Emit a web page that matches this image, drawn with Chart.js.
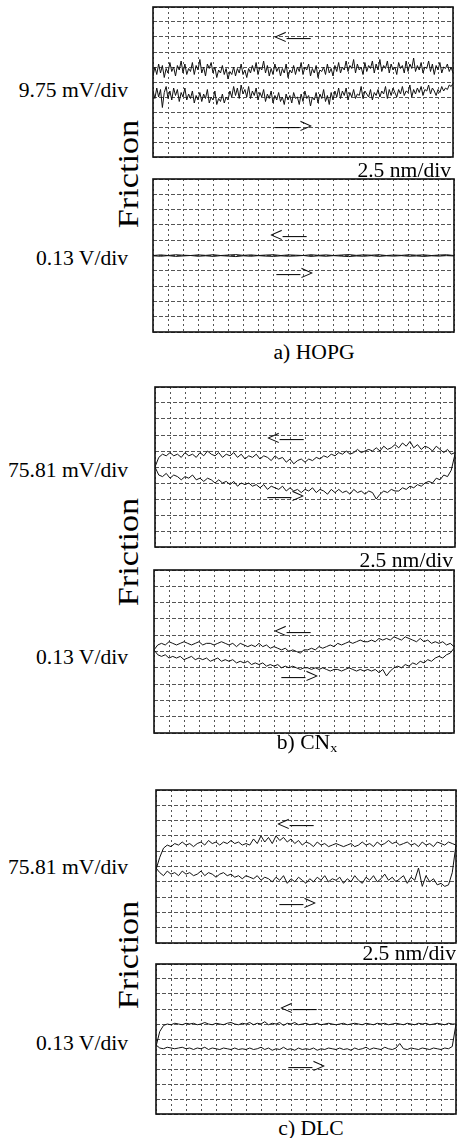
<!DOCTYPE html>
<html lang="en">
<head>
<meta charset="UTF-8">
<title>Friction loops - HOPG, CNx, DLC</title>
<script src="https://cdn.jsdelivr.net/npm/chart.js"></script>
<style>
    body {
        margin: 0;
        background: #fff;
        width: 457px;
        height: 1138px;
        overflow: hidden;
        position: relative;
        font-family: "Liberation Serif", "DejaVu Serif", serif;
        color: #000;
    }
    canvas { position: absolute; }
    .lbl {
        position: absolute;
        font-size: 20px;
        line-height: 20px;
        white-space: nowrap;
    }
    .c { transform: translate(-50%, -50%) scaleX(1.08); }
    .r { transform-origin: 100% 50%; transform: translate(-100%, -50%) scaleX(1.08); }
    .rot {
        font-size: 30px;
        line-height: 30px;
        transform: translate(-50%, -50%) rotate(-90deg) scaleX(1.14);
    }
    .arr { font-size: 22px; line-height: 22px; }
    .lbl sub { font-size: 13px; vertical-align: -3px; }
</style>
</head>
<body>

<!-- a) HOPG -->
<canvas id="p1"></canvas>
<canvas id="p2"></canvas>
<div class="lbl r" style="left:128px; top:90px;">9.75 mV/div</div>
<div class="lbl r" style="left:128px; top:258px;">0.13 V/div</div>
<div class="lbl rot" style="left:128px; top:174px;">Friction</div>
<div class="lbl r" style="left:451px; top:170px;">2.5 nm/div</div>
<div class="lbl c" style="left:314px; top:352px;">a) HOPG</div>
<div class="lbl c arr" style="left:292px; top:37px;">&lt;&mdash;</div>
<div class="lbl c arr" style="left:294px; top:126px;">&mdash;&gt;</div>
<div class="lbl c arr" style="left:288px; top:235px;">&lt;&mdash;</div>
<div class="lbl c arr" style="left:295px; top:273px;">&mdash;&gt;</div>

<!-- b) CNx -->
<canvas id="p3"></canvas>
<canvas id="p4"></canvas>
<div class="lbl r" style="left:128px; top:470px;">75.81 mV/div</div>
<div class="lbl r" style="left:128px; top:657px;">0.13 V/div</div>
<div class="lbl rot" style="left:128px; top:552px;">Friction</div>
<div class="lbl r" style="left:453px; top:560px;">2.5 nm/div</div>
<div class="lbl c" style="left:307px; top:745px;">b) CN<sub>x</sub></div>
<div class="lbl c arr" style="left:285px; top:438px;">&lt;&mdash;</div>
<div class="lbl c arr" style="left:286px; top:496px;">&mdash;&gt;</div>
<div class="lbl c arr" style="left:292px; top:631px;">&lt;&mdash;</div>
<div class="lbl c arr" style="left:300px; top:676px;">&mdash;&gt;</div>

<!-- c) DLC -->
<canvas id="p5"></canvas>
<canvas id="p6"></canvas>
<div class="lbl r" style="left:128px; top:867px;">75.81 mV/div</div>
<div class="lbl r" style="left:128px; top:1043px;">0.13 V/div</div>
<div class="lbl rot" style="left:128px; top:955px;">Friction</div>
<div class="lbl r" style="left:456px; top:953px;">2.5 nm/div</div>
<div class="lbl c" style="left:311px; top:1128px;">c) DLC</div>
<div class="lbl c arr" style="left:295px; top:824px;">&lt;&mdash;</div>
<div class="lbl c arr" style="left:298px; top:903px;">&mdash;&gt;</div>
<div class="lbl c arr" style="left:298px; top:1008px;">&lt;&mdash;</div>
<div class="lbl c arr" style="left:307px; top:1066px;">&mdash;&gt;</div>

<script>
    // screen: 20 divisions across, 10 divisions up
    const xDivs = 20;
    const yDivs = 10;

    // a) HOPG, 9.75 mV/div (upper = return "<-", lower = forward "->")
    const hopgFineBack = [5.4,6.0,5.5,6.2,5.6,6.1,5.3,5.9,5.6,6.3,5.7,6.0,5.4,6.1,5.8,6.4,5.6,6.2,5.5,5.9,
        5.7,6.3,5.5,6.1,5.8,6.5,5.6,6.0,5.4,6.2,5.9,6.3,5.6,6.0,5.3,5.8,5.6,6.1,5.5,5.9,
        5.2,5.7,5.5,6.0,5.4,5.9,5.6,6.2,5.5,5.8,5.3,5.9,5.6,6.1,5.7,6.3,5.5,6.0,5.8,6.4,
        5.6,6.1,5.4,5.9,5.5,6.2,5.7,6.0,5.4,5.9,5.6,6.2,5.3,5.8,5.6,6.1,5.5,6.0,5.7,6.3,
        5.5,6.0,5.8,6.2,5.4,5.9,5.6,6.1,5.3,5.8,5.7,6.0,5.5,6.2,5.6,5.9,5.4,6.1,5.7,6.3,
        5.6,6.0,5.8,6.4,5.7,6.1,5.9,6.5,5.6,6.2,5.8,6.0,5.5,6.3,5.7,6.1,5.9,6.4,5.6,6.2,
        5.8,6.5,5.7,6.1,5.9,6.4,5.6,6.2,5.8,6.0,5.5,6.3,5.9,6.1,5.6,6.4,5.7,6.2,5.9,6.6,
        5.7,6.1,5.8,6.3,5.6,6.0,5.9,6.4,5.7,6.2,5.5,6.1,5.8,6.3,5.6,6.0,5.9,6.2,5.7,6.0,
        5.6];
    const hopgFineFwd = [4.4,3.9,4.6,4.0,4.5,3.3,4.3,4.7,3.9,4.4,3.8,4.6,4.1,4.5,3.7,4.3,4.0,4.6,3.8,4.2,
        3.9,4.4,3.6,4.1,3.8,4.3,3.7,4.2,3.9,4.5,3.6,4.0,3.8,4.4,3.5,3.9,3.7,4.2,3.6,4.0,
        3.8,4.4,4.0,4.7,4.1,4.6,3.9,4.8,4.2,4.5,4.0,4.7,3.9,4.4,4.1,4.6,3.8,4.3,4.0,4.5,
        3.7,4.2,3.9,4.4,3.6,4.1,3.8,4.3,3.7,4.0,3.5,4.2,3.8,4.1,3.6,4.3,3.9,4.0,3.5,4.2,
        3.7,4.4,3.9,4.1,3.4,4.0,3.8,4.3,3.6,4.2,3.9,4.5,3.7,4.1,3.5,4.3,3.8,4.4,4.0,4.6,
        3.9,4.4,4.1,4.6,3.8,4.3,4.0,4.5,3.9,4.2,4.1,4.7,3.9,4.4,4.2,4.0,4.5,3.8,4.3,4.1,
        4.5,4.0,4.4,4.2,4.7,3.9,4.5,4.1,4.6,4.3,4.0,4.5,4.2,4.7,4.1,4.4,4.3,4.8,4.0,4.5,
        4.2,4.6,4.3,4.7,4.1,4.5,4.4,4.8,4.2,4.6,4.4,4.1,4.5,4.3,4.7,4.4,4.6,4.5,4.8,4.7,
        4.9];

    // a) HOPG, 0.13 V/div
    const hopgCoarseBack = [5.0,5.04,5.0,5.05,5.02,5.0,5.04,5.01,5.05,5.0,5.03,5.06,5.01,5.04,5.0,5.03,5.05,5.0,5.04,5.02,
        5.0,5.05,5.01,5.04,5.0,5.03,5.06,5.01,5.04,5.02,5.05,5.0,5.03,5.01,5.05,5.02,5.04,5.0,5.03,5.05,5.0];
    const hopgCoarseFwd = [4.98,4.95,4.99,4.94,4.97,5.0,4.95,4.98,4.94,4.99,4.96,4.93,4.98,4.95,4.99,4.96,4.94,4.98,4.95,4.97,
        5.0,4.94,4.98,4.95,4.99,4.96,4.93,4.97,4.95,4.99,4.94,4.98,4.96,4.99,4.95,4.97,4.94,4.98,4.96,4.99,4.97];

    // b) CNx, 75.81 mV/div
    const cnxFineBack = [5.0,5.6,5.8,5.7,5.9,5.7,5.8,5.6,5.9,5.7,5.8,5.6,5.9,5.7,6.0,5.8,5.7,
        5.9,5.6,5.8,5.7,5.9,5.6,5.8,5.5,5.7,5.6,5.8,5.5,5.7,5.6,5.4,5.7,
        5.5,5.6,5.3,5.5,5.2,5.4,5.5,5.3,5.5,5.4,5.6,5.5,5.7,5.6,5.8,5.7,
        5.9,5.8,6.0,5.8,5.9,6.1,5.9,6.0,6.1,6.0,6.2,6.0,6.3,6.1,6.2,6.4,
        6.2,6.5,6.3,6.6,6.2,6.4,6.1,6.3,6.2,6.0,6.3,6.1,5.9,6.1,5.8,5.9];
    const cnxFineFwd = [5.0,4.5,4.4,4.6,4.3,4.5,4.4,4.2,4.4,4.3,4.5,4.2,4.3,4.1,4.3,4.2,4.0,
        4.2,4.0,4.1,3.9,4.1,3.8,4.0,3.9,4.0,3.8,3.9,3.7,3.9,3.6,3.8,3.7,
        3.6,3.8,3.5,3.7,3.5,3.6,3.4,3.6,3.5,3.7,3.4,3.6,3.5,3.3,3.6,3.4,
        3.6,3.4,3.5,3.3,3.6,3.4,3.5,3.3,3.5,3.4,3.0,3.3,3.5,3.4,3.6,3.5,
        3.5,3.7,3.6,3.8,3.7,3.9,3.8,4.0,4.1,4.0,4.3,4.2,4.5,4.4,4.8,5.8];

    // b) CNx, 0.13 V/div
    const cnxCoarseBack = [5.1,5.4,5.5,5.4,5.6,5.5,5.4,5.5,5.6,5.5,5.4,5.5,5.6,5.4,5.5,5.5,5.4,
        5.5,5.6,5.5,5.4,5.5,5.3,5.5,5.4,5.3,5.4,5.3,5.5,5.3,5.4,5.2,5.3,
        5.2,5.1,5.2,5.0,5.1,5.0,4.9,5.1,5.1,5.2,5.1,5.3,5.2,5.3,5.4,5.3,
        5.5,5.4,5.5,5.6,5.5,5.6,5.7,5.6,5.6,5.7,5.6,5.8,5.7,5.8,5.7,5.9,
        5.8,5.7,5.9,5.8,5.7,5.6,5.8,5.6,5.7,5.5,5.6,5.5,5.6,5.4,5.5,5.3];
    const cnxCoarseFwd = [5.1,4.8,4.7,4.8,4.6,4.7,4.6,4.7,4.5,4.6,4.7,4.5,4.6,4.5,4.6,4.4,4.5,
        4.6,4.4,4.5,4.4,4.5,4.3,4.4,4.3,4.4,4.2,4.3,4.2,4.3,4.1,4.2,4.1,
        4.2,4.0,4.1,4.0,4.1,4.0,3.9,4.0,4.0,3.9,4.0,3.9,4.0,3.9,3.8,3.9,
        3.9,3.8,3.9,4.0,3.9,3.8,3.9,3.8,3.9,3.8,3.9,3.7,3.9,3.5,3.8,4.0,
        4.1,4.0,4.2,4.1,4.3,4.2,4.4,4.3,4.5,4.4,4.6,4.7,4.6,4.8,4.9,5.2];

    // c) DLC, 75.81 mV/div
    const dlcFineBack = [4.8,5.6,6.2,6.4,6.3,6.5,6.4,6.6,6.4,
        6.5,6.3,6.5,6.6,6.4,6.7,6.5,6.6,6.4,6.6,6.5,6.7,6.5,6.6,6.4,6.5,
        6.4,6.8,6.5,7.0,6.6,6.9,6.5,7.0,6.7,6.9,6.6,6.8,6.5,6.7,6.4,6.6,
        6.5,6.3,6.6,6.4,6.5,6.3,6.4,6.5,6.4,6.3,6.4,6.5,6.3,6.4,6.6,6.4,
        6.5,6.3,6.6,6.4,6.5,6.7,6.5,6.6,6.4,6.5,6.6,6.4,6.5,6.3,6.6,6.4,
        6.5,6.3,6.6,6.5,6.4,6.6,6.5,6.4];
    const dlcFineFwd = [4.9,4.6,4.4,4.7,4.5,4.6,4.4,4.7,4.5,
        4.6,4.4,4.5,4.7,4.4,4.6,4.5,4.3,4.5,4.6,4.4,4.5,4.3,4.4,4.2,4.4,
        4.3,4.2,4.4,4.1,4.3,4.2,4.0,4.3,4.1,4.4,3.9,4.2,4.0,4.3,4.1,3.9,
        4.2,4.0,4.3,4.1,4.4,4.0,4.2,4.1,4.3,3.9,4.2,4.0,4.4,4.1,3.9,4.3,
        4.1,4.4,4.0,4.2,4.5,4.1,4.3,4.0,4.2,4.4,3.9,4.3,4.1,4.9,3.7,4.4,
        4.0,4.2,3.8,3.9,3.7,3.8,4.6,6.4];

    // c) DLC, 0.13 V/div
    const dlcCoarseBack = [4.5,5.5,5.9,6.0,5.95,6.05,6.0,5.95,6.05,
        6.0,6.05,5.95,6.0,6.1,6.0,5.95,6.05,6.0,5.95,6.05,6.1,6.0,5.95,6.05,6.0,
        6.1,5.95,6.05,6.0,6.15,5.95,6.05,6.0,6.1,5.9,6.05,6.0,6.1,5.95,6.0,6.05,
        5.95,6.0,6.05,5.95,6.0,6.05,6.0,5.95,6.0,6.05,5.95,6.0,6.05,6.0,5.95,6.05,
        6.0,5.95,6.05,6.0,6.05,5.95,6.0,6.05,6.0,5.95,6.05,6.0,5.95,6.05,6.0,6.05,
        5.95,6.0,6.05,6.0,5.95,6.05,6.0,6.0];
    const dlcCoarseFwd = [4.6,4.4,4.35,4.45,4.4,4.35,4.4,4.45,4.35,
        4.4,4.3,4.4,4.35,4.45,4.3,4.4,4.35,4.3,4.4,4.35,4.3,4.4,4.3,4.35,4.3,
        4.4,4.3,4.35,4.45,4.3,4.4,4.25,4.35,4.3,4.45,4.3,4.35,4.25,4.4,4.3,4.35,
        4.3,4.4,4.25,4.35,4.3,4.4,4.35,4.3,4.4,4.3,4.35,4.25,4.4,4.3,4.35,4.45,
        4.3,4.4,4.35,4.3,4.45,4.35,4.3,4.4,4.7,4.35,4.3,4.4,4.35,4.3,4.4,4.35,
        4.3,4.4,4.35,4.3,4.4,4.35,4.5,6.0];

    // draws the heavy frame round each screen
    const framePlugin = {
        id: 'frame',
        afterDraw(chart) {
            const a = chart.chartArea;
            const ctx = chart.ctx;
            ctx.save();
            ctx.strokeStyle = '#111';
            ctx.lineWidth = 1.6;
            ctx.strokeRect(a.left, a.top, a.right - a.left, a.bottom - a.top);
            ctx.restore();
        }
    };

    function toPoints(ys) {
        return ys.map((y, i) => ({ x: i * xDivs / (ys.length - 1), y: y }));
    }

    function makePanel(id, left, top, width, height, back, fwd) {
        const pad = 2;
        const cv = document.getElementById(id);
        cv.width = width + pad * 2;
        cv.height = height + pad * 2;
        cv.style.left = (left - pad) + 'px';
        cv.style.top = (top - pad) + 'px';
        new Chart(cv.getContext('2d'), {
            type: 'line',
            data: {
                datasets: [back, fwd].map(ys => ({
                    data: toPoints(ys),
                    borderColor: '#111',
                    borderWidth: 1,
                    pointRadius: 0,
                    tension: 0,
                    fill: false
                }))
            },
            options: {
                responsive: false,
                animation: false,
                devicePixelRatio: 1,
                layout: { padding: pad },
                plugins: { legend: { display: false }, tooltip: { enabled: false } },
                scales: {
                    x: {
                        type: 'linear', min: 0, max: xDivs,
                        ticks: { display: false, stepSize: 1 },
                        grid: { color: '#555', lineWidth: 1, drawTicks: false, tickLength: 0 },
                        border: { display: false, dash: [2, 3] }
                    },
                    y: {
                        type: 'linear', min: 0, max: yDivs,
                        ticks: { display: false, stepSize: 1 },
                        grid: { color: '#555', lineWidth: 1, drawTicks: false, tickLength: 0 },
                        border: { display: false, dash: [4, 2] }
                    }
                }
            },
            plugins: [framePlugin]
        });
    }

    makePanel('p1', 153, 7, 300, 150, hopgFineBack, hopgFineFwd);
    makePanel('p2', 153, 179, 301, 153, hopgCoarseBack, hopgCoarseFwd);
    makePanel('p3', 155, 387, 300, 160, cnxFineBack, cnxFineFwd);
    makePanel('p4', 154, 570, 300, 163, cnxCoarseBack, cnxCoarseFwd);
    makePanel('p5', 156, 790, 300, 153, dlcFineBack, dlcFineFwd);
    makePanel('p6', 156, 964, 300, 150, dlcCoarseBack, dlcCoarseFwd);
</script>
</body>
</html>
